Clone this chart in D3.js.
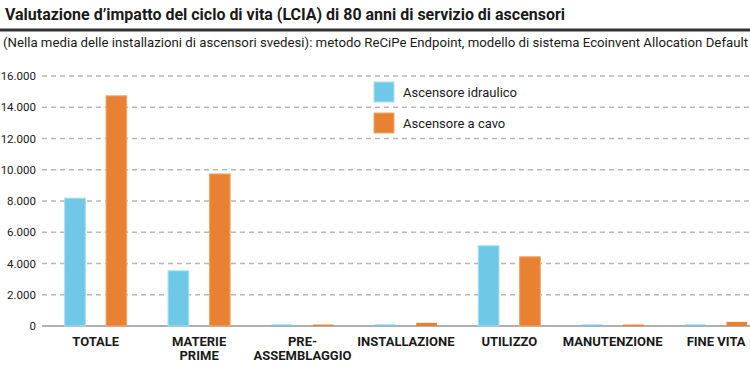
<!DOCTYPE html>
<html>
<head>
<meta charset="utf-8">
<script src="https://cdn.jsdelivr.net/npm/d3@7"></script>
<style>
  body { margin: 0; background: #fff; }
  svg { display: block; font-family: Roboto, "Liberation Sans", sans-serif; }
</style>
</head>
<body>
<div id="chart"></div>
<script>
  const categories = [
    ["TOTALE"],
    ["MATERIE", "PRIME"],
    ["PRE-", "ASSEMBLAGGIO"],
    ["INSTALLAZIONE"],
    ["UTILIZZO"],
    ["MANUTENZIONE"],
    ["FINE VITA"],
  ];
  const seriesNames = ["Ascensore idraulico", "Ascensore a cavo"];
  const hydraulic = [8150, 3500, 60, 60, 5100, 60, 60];
  const cable = [14700, 9700, 60, 170, 4400, 60, 230];
  const yTicks = [0, 2000, 4000, 6000, 8000, 10000, 12000, 14000, 16000];

  const COLORS = ["#70c8e9", "#e98132"];
  const EDGES = ["#a6def2", "#f2a86e"];

  const width = 750;
  const height = 385;

  const svg = d3
    .select("#chart")
    .append("svg")
    .attr("width", width)
    .attr("height", height);

  // heading
  svg.append("text")
    .attr("x", 5)
    .attr("y", 20)
    .attr("font-size", "16px")
    .attr("font-weight", "bold")
    .attr("fill", "#1a1a1a")
    .attr("textLength", 560)
    .attr("lengthAdjust", "spacingAndGlyphs")
    .text("Valutazione d\u2019impatto del ciclo di vita (LCIA) di 80 anni di servizio di ascensori");

  svg.append("line")
    .attr("x1", 0).attr("x2", width)
    .attr("y1", 30).attr("y2", 30)
    .attr("stroke", "#333")
    .attr("stroke-width", 3);

  svg.append("text")
    .attr("x", 3)
    .attr("y", 47)
    .attr("font-size", "13px")
    .attr("fill", "#1a1a1a")
    .attr("textLength", 745)
    .attr("lengthAdjust", "spacingAndGlyphs")
    .text("(Nella media delle installazioni di ascensori svedesi): metodo ReCiPe Endpoint, modello di sistema Ecoinvent Allocation Default");

  const y = d3.scaleLinear().domain([0, 16000]).range([326, 76]);

  const x = d3
    .scaleBand()
    .domain(d3.range(categories.length))
    .range([44, 44 + 7 * 103.4]);

  const xs = d3
    .scaleBand()
    .domain([0, 1])
    .range([0, x.bandwidth()])
    .padding(0.5);

  // gridlines
  svg.append("g")
    .selectAll("line")
    .data(yTicks.filter((t) => t > 0))
    .join("line")
    .attr("x1", 42)
    .attr("x2", width)
    .attr("y1", (d) => y(d))
    .attr("y2", (d) => y(d))
    .attr("stroke", "#b8b8b8")
    .attr("stroke-width", 1.5)
    .attr("stroke-dasharray", "5,4");

  // y tick labels
  const fmt = (v) => d3.format(",")(v).replace(/,/g, ".");
  svg.append("g")
    .selectAll("text")
    .data(yTicks)
    .join("text")
    .attr("x", 36)
    .attr("y", (d) => y(d))
    .attr("dy", "0.35em")
    .attr("text-anchor", "end")
    .attr("font-size", "11.5px")
    .attr("fill", "#1a1a1a")
    .text(fmt);

  // baseline (under the bars, tiny bars show on top of it)
  svg.append("line")
    .attr("x1", 42).attr("x2", width)
    .attr("y1", y(0)).attr("y2", y(0))
    .attr("stroke", "#b0b0b0")
    .attr("stroke-width", 2);

  // bars
  const rows = categories.map((c, i) => [hydraulic[i], cable[i]]);
  const groups = svg.append("g")
    .selectAll("g")
    .data(rows)
    .join("g")
    .attr("transform", (d, i) => `translate(${x(i)},0)`);

  groups.selectAll("rect")
    .data((d) => d.map((v, s) => ({ v, s })))
    .join("rect")
    .attr("x", (d) => xs(d.s))
    .attr("width", xs.bandwidth())
    .attr("y", (d) => y(d.v) - 0.5)
    .attr("height", (d) => y(0) - y(d.v) + 0.5)
    .attr("fill", (d) => COLORS[d.s])
    .attr("stroke", (d) => (d.v > 500 ? EDGES[d.s] : "none"))
    .attr("stroke-width", 1);

  // category labels
  const labels = svg.append("g")
    .selectAll("text")
    .data(categories)
    .join("text")
    .attr("x", (d, i) => x(i) + x.bandwidth() / 2)
    .attr("y", 346)
    .attr("text-anchor", "middle")
    .attr("font-size", "13px")
    .attr("font-weight", "bold")
    .attr("fill", "#1a1a1a");

  labels.selectAll("tspan")
    .data((d) => d)
    .join("tspan")
    .attr("x", function () { return d3.select(this.parentNode).attr("x"); })
    .attr("dy", (d, i) => (i === 0 ? 0 : 14))
    .text((d) => d);

  // legend
  const legend = svg.append("g")
    .selectAll("g")
    .data(seriesNames)
    .join("g")
    .attr("transform", (d, i) => `translate(374,${82 + i * 31})`);

  legend.append("rect")
    .attr("width", 20)
    .attr("height", 20)
    .attr("fill", (d, i) => COLORS[i])
    .attr("stroke", (d, i) => EDGES[i]);

  legend.append("text")
    .attr("x", 29)
    .attr("y", 10)
    .attr("dy", "0.35em")
    .attr("font-size", "13px")
    .attr("fill", "#1a1a1a")
    .text((d) => d);
</script>
</body>
</html>
